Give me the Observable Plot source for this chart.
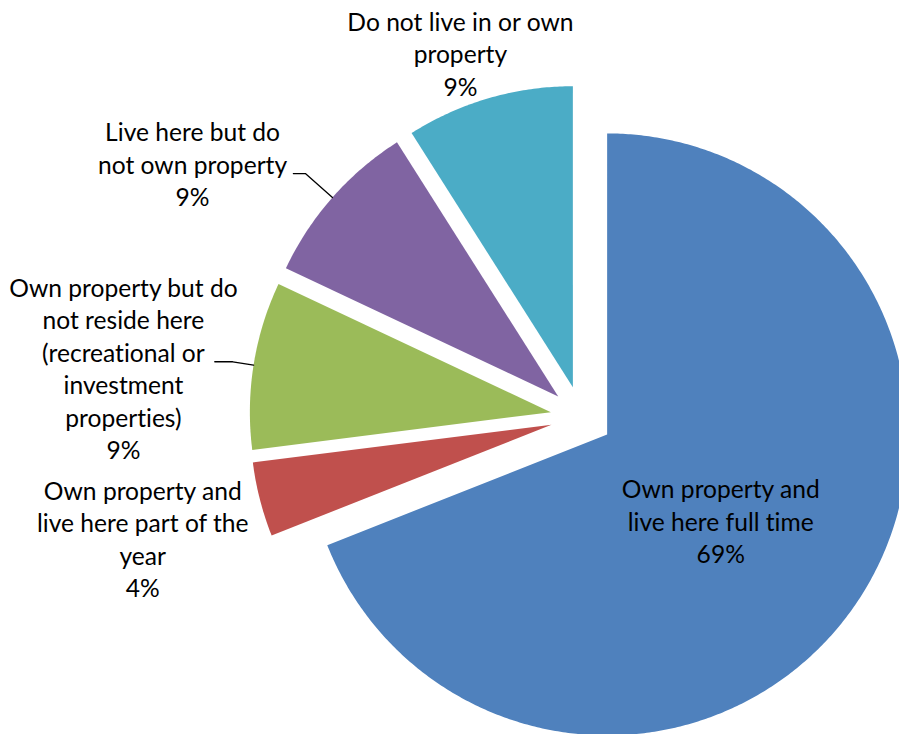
<!DOCTYPE html>
<html><head><meta charset="utf-8">
<script src="https://cdn.jsdelivr.net/npm/d3@7"></script>
<script src="https://cdn.jsdelivr.net/npm/@observablehq/plot@0.6"></script>
<style>body{margin:0;background:#fff} svg text{font-variant-ligatures:none;font-feature-settings:"liga" 0,"clig" 0;}</style>
</head><body><div id="chart"></div>
<script>
// ---- data ----
const categories = [
  "Own property and live here full time",
  "Own property and live here part of the year",
  "Own property but do not reside here (recreational or investment properties)",
  "Live here but do not own property",
  "Do not live in or own property"
];
const values = [69, 4, 9, 9, 9];
const percentLabels = ["69%", "4%", "9%", "9%", "9%"];
const wrappedLabels = [
  "Own property and\nlive here full time",
  "Own property and\nlive here part of the\nyear",
  "Own property but do\nnot reside here\n(recreational or\ninvestment\nproperties)",
  "Live here but do\nnot own property",
  "Do not live in or own\nproperty"
];
const colors = ["#4F81BD", "#C0504D", "#9BBB59", "#8064A2", "#4BACC6"];

// ---- layout ----
const W = 899, H = 734, CX = 581, CY = 416.5, R = 301;
const explode = 31 / R;
// label placement: radius (pie units) and angle nudge (deg) from slice bisector
const labelPlacement = [
  {r: 0.58, da: 2.9}, {r: 1.514, da: -1.3}, {r: 1.53, da: -3.1}, {r: 1.539, da: -8.5}, {r: 1.268, da: -2.3}
];
const leaders = [{i: 2, elbow: 1.07, tail: 18 / R}, {i: 3, elbow: 1.12, tail: 12 / R}];

const arcs = d3.pie().sort(null)(values);
const slicePts = [];
const labels = [];
const leaderPts = [];
arcs.forEach((a, i) => {
  const m = (a.startAngle + a.endAngle) / 2;
  const ox = explode * Math.sin(m), oy = explode * Math.cos(m);
  slicePts.push({cat: categories[i], x: ox, y: oy});
  const n = Math.max(2, Math.ceil((a.endAngle - a.startAngle) / (Math.PI / 360)));
  for (let k = 0; k <= n; k++) {
    const t = a.startAngle + (a.endAngle - a.startAngle) * k / n;
    slicePts.push({cat: categories[i], x: ox + Math.sin(t), y: oy + Math.cos(t)});
  }
  const lp = labelPlacement[i];
  const la = m + lp.da * Math.PI / 180;
  labels.push({x: lp.r * Math.sin(la), y: lp.r * Math.cos(la), text: wrappedLabels[i] + "\n" + percentLabels[i]});
  const ld = leaders.find(l => l.i === i);
  if (ld) {
    const ex = ox + ld.elbow * Math.sin(m), ey = oy + ld.elbow * Math.cos(m);
    leaderPts.push({id: i, x: ox + Math.sin(m), y: oy + Math.cos(m)});
    leaderPts.push({id: i, x: ex, y: ey});
    leaderPts.push({id: i, x: ex - ld.tail, y: ey});
  }
});

const chart = Plot.plot({
  width: W, height: H,
  margin: 0,
  x: {domain: [-CX / R, (W - CX) / R], axis: null},
  y: {domain: [-(H - CY) / R, CY / R], axis: null},
  color: {domain: categories, range: colors},
  style: {fontFamily: "Lato, 'Open Sans', sans-serif", background: "#fff"},
  marks: [
    Plot.line(slicePts, {x: "x", y: "y", z: "cat", fill: "cat", stroke: "none"}),
    Plot.line(leaderPts, {x: "x", y: "y", z: "id", stroke: "#000", strokeWidth: 1.3}),
    Plot.text(labels, {x: "x", y: "y", text: "text", fontSize: 24.6, lineHeight: 1.32, dy: -2, fill: "#000", textAnchor: "middle"})
  ]
});
document.getElementById("chart").appendChild(chart);
</script>
</body></html>
